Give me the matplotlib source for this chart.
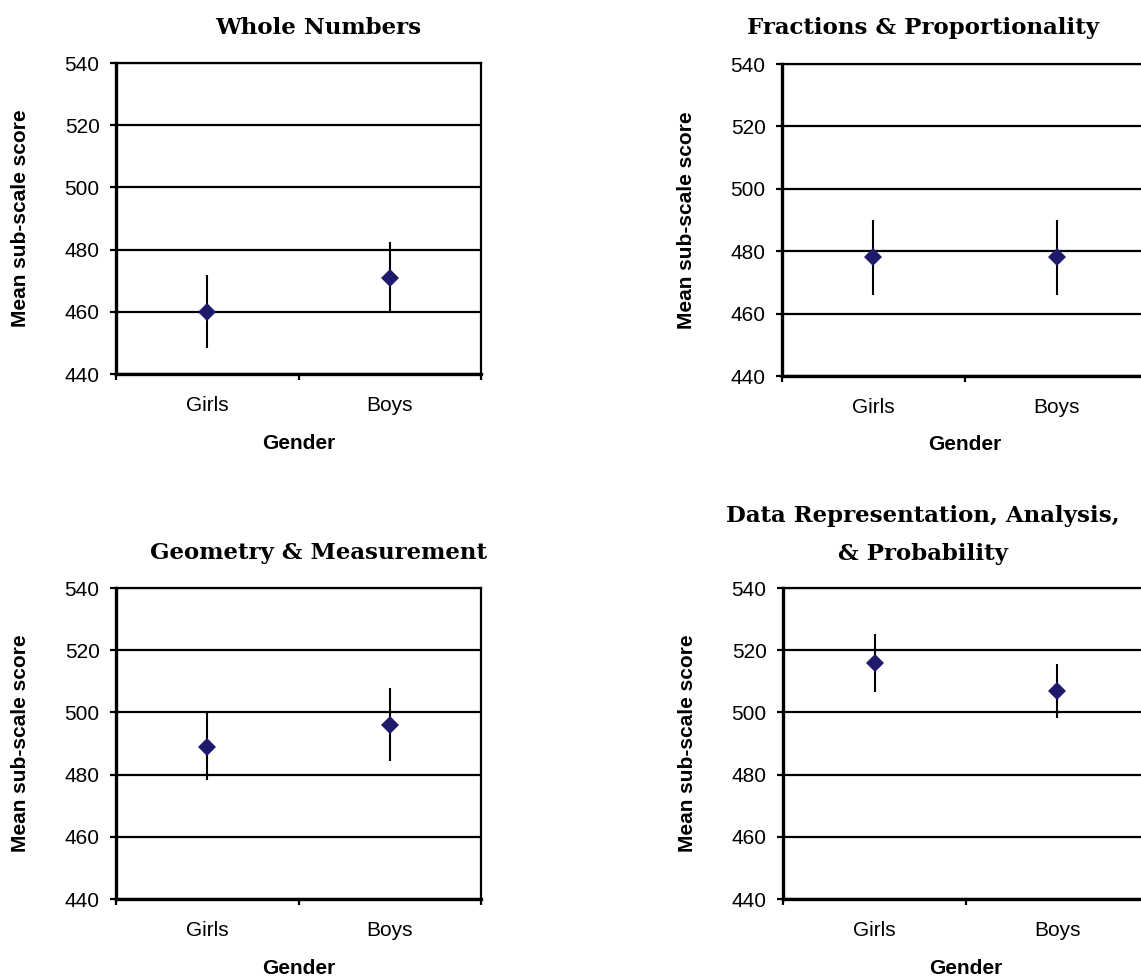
import matplotlib.pyplot as plt

categories = ['Girls', 'Boys']
titles = ['Whole Numbers', 'Fractions & Proportionality',
          'Geometry & Measurement', 'Data Representation, Analysis,\n& Probability']
means = [[460, 471], [478, 478], [489, 496], [516, 507]]
errors = [[11.7, 11.5], [12, 12], [10.8, 11.7], [9.3, 8.7]]
yticks = [440, 460, 480, 500, 520, 540]

W, H = 1141, 976
fig = plt.figure(figsize=(W / 100, H / 100), dpi=100)

sans = ['Liberation Sans', 'DejaVu Sans']
serif = ['DejaVu Serif']

# pixel layout of each panel: left, top, right, bottom of plot area,
# title centre x and baseline y (last line), y-label x, x-label baseline
panels = [
    dict(l=116, t=63, r=481, b=374, tx=318, ty=34, ylx=21, xly=449),
    dict(l=782, t=64, r=1148, b=376, tx=923, ty=34, ylx=687, xly=450),
    dict(l=116, t=588, r=481, b=899, tx=318, ty=559, ylx=21, xly=974),
    dict(l=783, t=588, r=1149, b=899, tx=923, ty=560, ylx=688, xly=974),
]

for p, title, m, e in zip(panels, titles, means, errors):
    ax = fig.add_axes([p['l'] / W, 1 - p['b'] / H,
                       (p['r'] - p['l']) / W, (p['b'] - p['t']) / H])
    x = [0.5, 1.5]
    ax.errorbar(x, m, yerr=e, fmt='D', color='#1f1a6b', ms=9.5, mew=0,
                ecolor='black', elinewidth=1.5, capsize=0, zorder=3)
    ax.set_xlim(0, 2)
    ax.set_ylim(440, 540)
    ax.set_yticks(yticks)
    ax.set_yticklabels([str(t) for t in yticks], fontsize=15, family=sans)
    ax.set_xticks([0, 1, 2])
    ax.set_xticklabels([])
    ax.set_xticks(x, minor=True)
    ax.set_xticklabels(categories, minor=True, fontsize=15, family=sans)
    ax.tick_params(axis='x', which='minor', length=0, pad=16)
    ax.tick_params(axis='x', which='major', length=4.3, width=1.6, direction='out')
    ax.tick_params(axis='y', length=4.3, width=1.6, direction='out', pad=7.5)
    ax.grid(axis='y', color='black', lw=1.6, zorder=1)
    ax.set_axisbelow(True)
    ax.spines['left'].set_linewidth(2.4)
    ax.spines['bottom'].set_linewidth(2.4)
    ax.spines['right'].set_linewidth(1.6)
    ax.spines['top'].set_linewidth(1.6)

    cy = (p['t'] + p['b']) / 2
    fig.text(p['ylx'] / W, 1 - cy / H, 'Mean sub-scale score', rotation=90,
             ha='center', va='center', fontsize=15, fontweight='bold', family=sans)
    fig.text((p['l'] + p['r']) / 2 / W, 1 - p['xly'] / H, 'Gender',
             ha='center', va='baseline', fontsize=15, fontweight='bold', family=sans)
    fig.text(p['tx'] / W, 1 - p['ty'] / H, title, ha='center', va='baseline',
             fontsize=16.5, fontweight='bold', family=serif, linespacing=1.95)

fig.savefig('out.png', dpi=100)
